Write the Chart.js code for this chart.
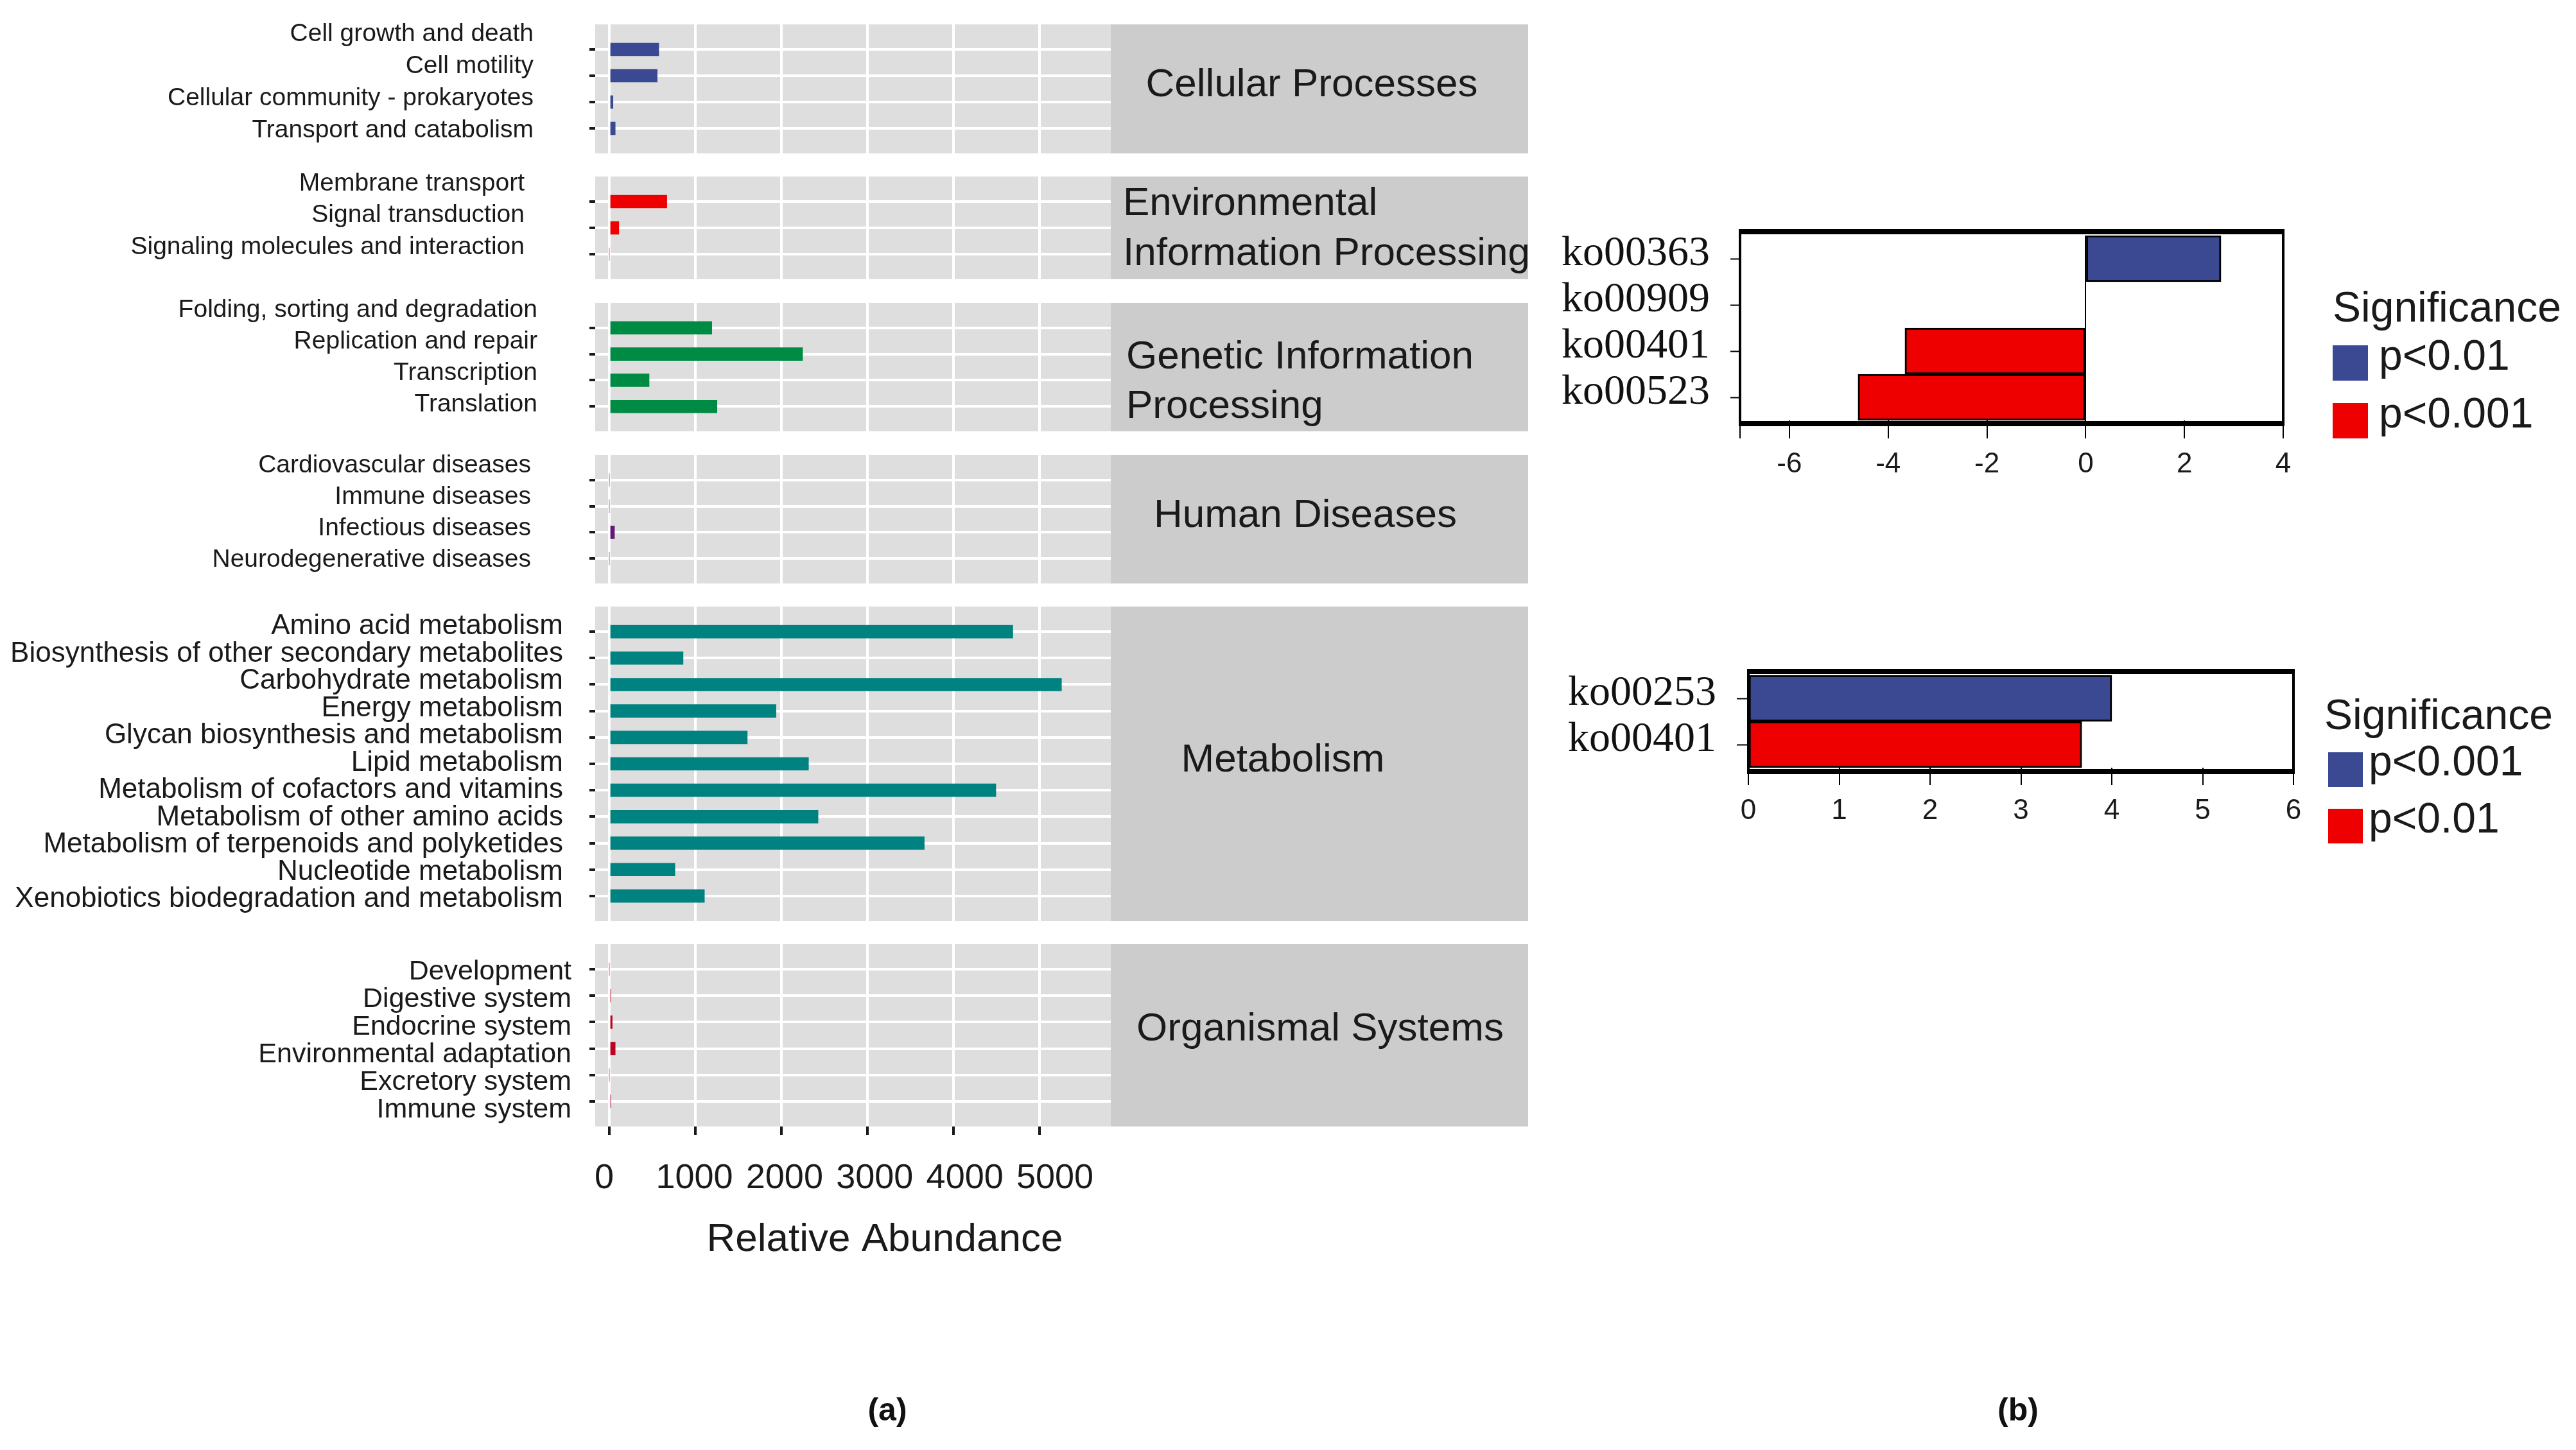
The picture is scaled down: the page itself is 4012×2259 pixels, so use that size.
<!DOCTYPE html>
<html>
<head>
<meta charset="utf-8">
<script src="https://cdn.jsdelivr.net/npm/chart.js@4.4.1/dist/chart.umd.min.js"></script>
<style>
  html, body { margin: 0; padding: 0; background: #fff; }
  body { width: 4012px; height: 2259px; position: relative; overflow: hidden; }
  canvas { position: absolute; }
  .tag { position: absolute; font: bold 50px "Liberation Sans", Arial, sans-serif; color: #111; transform: translate(-50%, -50%); }
</style>
</head>
<body>
<div class="tag" style="left:1382px; top:2196px">(a)</div>
<div class="tag" style="left:3143px; top:2196px">(b)</div>
<script>
// (a) KEGG level-2 abundance, one facet per level-1 group
const groupNames = [
  ['Cellular Processes'],
  ['Environmental', 'Information Processing'],
  ['Genetic Information', 'Processing'],
  ['Human Diseases'],
  ['Metabolism'],
  ['Organismal Systems']
];

const cellularLabels = ['Cell growth and death', 'Cell motility', 'Cellular community - prokaryotes', 'Transport and catabolism'];
const cellularValues = [575, 557, 43, 69];

const environmentalLabels = ['Membrane transport', 'Signal transduction', 'Signaling molecules and interaction'];
const environmentalValues = [669, 111, 0];

const geneticLabels = ['Folding, sorting and degradation', 'Replication and repair', 'Transcription', 'Translation'];
const geneticValues = [1192, 2247, 463, 1252];

const diseaseLabels = ['Cardiovascular diseases', 'Immune diseases', 'Infectious diseases', 'Neurodegenerative diseases'];
const diseaseValues = [0, 0, 60, 0];

const metabolismLabels = ['Amino acid metabolism', 'Biosynthesis of other secondary metabolites', 'Carbohydrate metabolism',
  'Energy metabolism', 'Glycan biosynthesis and metabolism', 'Lipid metabolism', 'Metabolism of cofactors and vitamins',
  'Metabolism of other amino acids', 'Metabolism of terpenoids and polyketides', 'Nucleotide metabolism',
  'Xenobiotics biodegradation and metabolism'];
const metabolismValues = [4691, 858, 5257, 1938, 1604, 2316, 4494, 2427, 3662, 763, 1106];

const organismalLabels = ['Development', 'Digestive system', 'Endocrine system', 'Environmental adaptation', 'Excretory system', 'Immune system'];
const organismalValues = [0, 17, 34, 69, 0, 17];

const abundanceTicks = [0, 1000, 2000, 3000, 4000, 5000];

// (b) differential KO pathways
const koLabelsTop = ['ko00363', 'ko00909', 'ko00401', 'ko00523'];
const koValuesTop = [2.74, 0, -3.66, -4.61];
const koSigTop = ['p<0.01', 'p<0.001', 'p<0.001', 'p<0.001'];
const koLegendTop = ['p<0.01', 'p<0.001'];
const koTicksTop = [-6, -4, -2, 0, 2, 4];

const koLabelsBottom = ['ko00253', 'ko00401'];
const koValuesBottom = [4.0, 3.67];
const koSigBottom = ['p<0.001', 'p<0.01'];
const koLegendBottom = ['p<0.001', 'p<0.01'];
const koTicksBottom = [0, 1, 2, 3, 4, 5, 6];

const facetLabels = [cellularLabels, environmentalLabels, geneticLabels, diseaseLabels, metabolismLabels, organismalLabels];
const facetValues = [cellularValues, environmentalValues, geneticValues, diseaseValues, metabolismValues, organismalValues];

// styling / layout
const groupColors = ['#3B4992', '#EE0000', '#008B45', '#631879', '#008280', '#BB0021'];
const sigColors = ['#3B4992', '#EE0000'];
const TEXT = '#1a1a1a';

const facetBoxes = [
  {top: 38, height: 201, labelFirst: 15, labelStep: 50, labelSize: 39, labelPad: 86, stripX: 2043, stripAlign: 'center', stripY: [133]},
  {top: 275, height: 160, labelFirst: 11, labelStep: 49.5, labelSize: 39, labelPad: 100, stripX: 1749, stripAlign: 'left', stripY: [318, 396]},
  {top: 472, height: 200, labelFirst: 11, labelStep: 49, labelSize: 39, labelPad: 80, stripX: 1754, stripAlign: 'left', stripY: [557, 634]},
  {top: 709, height: 200, labelFirst: 16, labelStep: 49, labelSize: 39, labelPad: 90, stripX: 2033, stripAlign: 'center', stripY: [804]},
  {top: 945, height: 490, labelFirst: 31, labelStep: 42.5, labelSize: 44, labelPad: 40, stripX: 1998, stripAlign: 'center', stripY: [1185]},
  {top: 1471, height: 284, labelFirst: 43, labelStep: 43, labelSize: 43, labelPad: 27, stripX: 2056, stripAlign: 'center', stripY: [1604]}
];
const PANEL_LEFT = 927, PANEL_RIGHT = 1730, STRIP_W = 650, FACET_CANVAS_W = 2400;
const ROW_PAD = 0.95, AXIS_BAND = 230, MARGIN = 40, X_TICK = 13;

Chart.defaults.font.family = '"Liberation Sans", Arial, sans-serif';
Chart.defaults.color = TEXT;

function addCanvas(left, top, width, height) {
  const c = document.createElement('canvas');
  c.width = width; c.height = height;
  c.style.left = left + 'px'; c.style.top = top + 'px';
  c.style.width = width + 'px'; c.style.height = height + 'px';
  document.body.appendChild(c);
  return c;
}

function fixSize(prop, size) {
  return axis => {
    axis[prop] = size;
    axis.paddingTop = axis.paddingBottom = axis.paddingLeft = axis.paddingRight = 0;
  };
}

const panelBackground = {
  id: 'panelBackground',
  beforeDraw(chart, args, o) {
    const {ctx, chartArea: a} = chart;
    ctx.save();
    ctx.fillStyle = o.color;
    ctx.fillRect(a.left, a.top, a.right - a.left, a.bottom - a.top);
    ctx.restore();
  }
};

const facetStrip = {
  id: 'facetStrip',
  afterDraw(chart, args, o) {
    const {ctx, chartArea: a} = chart;
    ctx.save();
    ctx.fillStyle = o.fill;
    ctx.fillRect(a.right, a.top, o.width, a.bottom - a.top);
    ctx.fillStyle = TEXT;
    ctx.font = o.size + 'px "Liberation Sans", Arial, sans-serif';
    ctx.textAlign = o.align;
    ctx.textBaseline = 'middle';
    o.lines.forEach((t, i) => ctx.fillText(t, o.x, o.ys[i]));
    if (o.axisTitle) {
      ctx.font = o.axisTitleSize + 'px "Liberation Sans", Arial, sans-serif';
      ctx.textAlign = 'center';
      ctx.fillText(o.axisTitle, o.axisTitleX, o.axisTitleY);
    }
    ctx.restore();
  }
};

const koFrame = {
  id: 'koFrame',
  afterDraw(chart, args, o) {
    const {ctx, chartArea: a} = chart;
    const t = a.top - o.top, b = a.bottom + o.bottom;
    ctx.save();
    ctx.strokeStyle = '#000';
    ctx.lineWidth = o.thin;
    ctx.beginPath();
    ctx.moveTo(a.left, t); ctx.lineTo(a.left, b);
    ctx.moveTo(a.right, t); ctx.lineTo(a.right, b);
    ctx.stroke();
    ctx.lineWidth = o.thick;
    ctx.beginPath();
    ctx.moveTo(a.left - 2, t); ctx.lineTo(a.right + 2, t);
    ctx.moveTo(a.left - 2, b); ctx.lineTo(a.right + 2, b);
    ctx.stroke();
    ctx.restore();
  }
};

const sigLegend = {
  id: 'sigLegend',
  afterDraw(chart, args, o) {
    const ctx = chart.ctx;
    ctx.save();
    ctx.textBaseline = 'middle';
    ctx.textAlign = 'left';
    ctx.font = o.size + 'px "Liberation Sans", Arial, sans-serif';
    ctx.fillStyle = TEXT;
    ctx.fillText(o.title, o.titleX, o.titleY);
    o.items.forEach((t, i) => {
      ctx.fillStyle = sigColors[i];
      ctx.fillRect(o.boxX, o.boxY[i], o.boxSize, o.boxSize);
      ctx.fillStyle = TEXT;
      ctx.fillText(t, o.textX, o.textY[i]);
    });
    ctx.restore();
  }
};

function makeFacet(k) {
  const labels = facetLabels[k], values = facetValues[k], box = facetBoxes[k];
  const last = k === facetLabels.length - 1;
  const n = labels.length;
  const rows = labels.map((_, i) => i);
  const canvasTop = box.top - MARGIN;
  const canvas = addCanvas(0, canvasTop, FACET_CANVAS_W, box.height + MARGIN + (last ? AXIS_BAND : MARGIN));

  new Chart(canvas, {
    type: 'bar',
    data: {
      datasets: [{
        data: values.map((v, i) => ({x: v, y: i})),
        backgroundColor: groupColors[k],
        borderWidth: 0,
        barThickness: 20
      }]
    },
    options: {
      indexAxis: 'y',
      responsive: false,
      animation: false,
      devicePixelRatio: 1,
      layout: {autoPadding: false, padding: {left: 0, top: MARGIN, bottom: last ? 0 : MARGIN, right: FACET_CANVAS_W - PANEL_RIGHT}},
      plugins: {
        legend: {display: false},
        tooltip: {enabled: false},
        panelBackground: {color: '#DEDEDE'},
        facetStrip: {
          fill: '#CCCCCC', width: STRIP_W, size: 62,
          lines: groupNames[k], x: box.stripX, align: box.stripAlign,
          ys: box.stripY.map(y => y - canvasTop),
          axisTitle: last ? 'Relative Abundance' : '',
          axisTitleSize: 62, axisTitleX: 1378, axisTitleY: 1932 - canvasTop
        }
      },
      scales: {
        x: {
          type: 'linear', position: 'bottom', weight: 0, min: -164, max: 5830,
          afterBuildTicks: a => { a.ticks = abundanceTicks.map(v => ({value: v})); },
          ticks: {display: false, autoSkip: false},
          grid: {color: '#fff', lineWidth: 4, drawTicks: last, tickLength: X_TICK, tickWidth: 4, tickColor: TEXT},
          border: {display: false},
          afterFit: fixSize('height', last ? X_TICK : 0)
        },
        xl: {
          type: 'linear', position: 'bottom', weight: 10, display: last, min: -100, max: 5619,
          afterBuildTicks: a => { a.ticks = abundanceTicks.map(v => ({value: v})); },
          ticks: {autoSkip: false, maxRotation: 0, font: {size: 54}, padding: 36, callback: v => String(v)},
          grid: {display: false, drawTicks: false},
          border: {display: false},
          afterFit: fixSize('height', last ? AXIS_BAND - X_TICK : 0)
        },
        y: {
          type: 'linear', position: 'left', reverse: true, offset: false, weight: 0,
          min: -ROW_PAD, max: n - 1 + ROW_PAD,
          afterBuildTicks: a => { a.ticks = rows.map(v => ({value: v})); },
          ticks: {display: false, autoSkip: false},
          grid: {color: '#fff', lineWidth: 4, offset: false, tickLength: 9, tickWidth: 4, tickColor: TEXT},
          border: {display: false},
          afterFit: fixSize('width', 10)
        },
        yl: {
          type: 'linear', position: 'left', reverse: true, offset: false, weight: 10,
          min: -box.labelFirst / box.labelStep,
          max: (box.height - box.labelFirst) / box.labelStep,
          afterBuildTicks: a => { a.ticks = rows.map(v => ({value: v})); },
          ticks: {autoSkip: false, padding: box.labelPad, font: {size: box.labelSize}, color: TEXT, callback: v => labels[Math.round(v)]},
          grid: {display: false, drawTicks: false},
          border: {display: false},
          afterFit: fixSize('width', PANEL_LEFT - 10)
        }
      }
    },
    plugins: [panelBackground, facetStrip]
  });
}

function makeKoChart(cfg) {
  const canvas = addCanvas(cfg.left, cfg.top, cfg.width, cfg.height);
  const colorFor = s => sigColors[cfg.legend.indexOf(s)];
  new Chart(canvas, {
    type: 'bar',
    data: {
      labels: cfg.labels,
      datasets: [{
        data: cfg.values,
        backgroundColor: cfg.sig.map(colorFor),
        borderColor: '#000',
        borderWidth: 3,
        borderSkipped: false,
        barPercentage: 1,
        categoryPercentage: 1
      }]
    },
    options: {
      indexAxis: 'y',
      responsive: false,
      animation: false,
      devicePixelRatio: 1,
      layout: {autoPadding: false, padding: {left: 0, top: cfg.padTop, right: cfg.padRight, bottom: 0}},
      plugins: {
        legend: {display: false},
        tooltip: {enabled: false},
        koFrame: {top: 6, bottom: cfg.frameBottom, thick: 8, thin: 4},
        sigLegend: Object.assign({title: 'Significance', items: cfg.legend, size: 66}, cfg.legendBox)
      },
      scales: {
        x: {
          type: 'linear', min: cfg.min, max: cfg.max,
          afterBuildTicks: a => { a.ticks = [cfg.min].concat(cfg.ticks).filter((v, i, arr) => arr.indexOf(v) === i).map(v => ({value: v})); },
          ticks: {autoSkip: false, maxRotation: 0, font: {size: 44}, padding: 14, callback: v => cfg.ticks.includes(v) ? String(v) : ''},
          grid: {
            color: c => (c.tick && c.tick.value === 0) ? '#000' : 'rgba(0,0,0,0)',
            lineWidth: 2, tickLength: cfg.tickLen, tickWidth: 2, tickColor: '#000'
          },
          border: {display: false},
          afterFit: fixSize('height', cfg.xHeight)
        },
        y: {
          ticks: {autoSkip: false, padding: 32, labelOffset: -7, color: '#111', font: {family: '"Liberation Serif", "Times New Roman", serif', size: 66}},
          grid: {drawOnChartArea: false, offset: false, tickLength: cfg.yTick, tickWidth: 2, tickColor: '#000'},
          border: {display: false},
          afterFit: fixSize('width', cfg.yWidth)
        }
      }
    },
    plugins: [koFrame, sigLegend]
  });
}

facetLabels.forEach((_, k) => makeFacet(k));

makeKoChart({
  left: 2400, top: 300, width: 1612, height: 500,
  padTop: 67, padRight: 456, yWidth: 310, xHeight: 145, yTick: 15, tickLen: 28, frameBottom: 5,
  labels: koLabelsTop, values: koValuesTop, sig: koSigTop, legend: koLegendTop,
  min: -7, max: 4, ticks: koTicksTop,
  legendBox: {titleX: 1233, titleY: 183, boxX: 1233, boxY: [238, 328], boxSize: 55, textX: 1305, textY: [258, 348]}
});

makeKoChart({
  left: 2400, top: 980, width: 1612, height: 400,
  padTop: 72, padRight: 440, yWidth: 323, xHeight: 184, yTick: 18, tickLen: 27, frameBottom: 6,
  labels: koLabelsBottom, values: koValuesBottom, sig: koSigBottom, legend: koLegendBottom,
  min: 0, max: 6, ticks: koTicksBottom,
  legendBox: {titleX: 1220, titleY: 138, boxX: 1226, boxY: [192, 280], boxSize: 54, textX: 1289, textY: [210, 299]}
});
</script>
</body>
</html>
